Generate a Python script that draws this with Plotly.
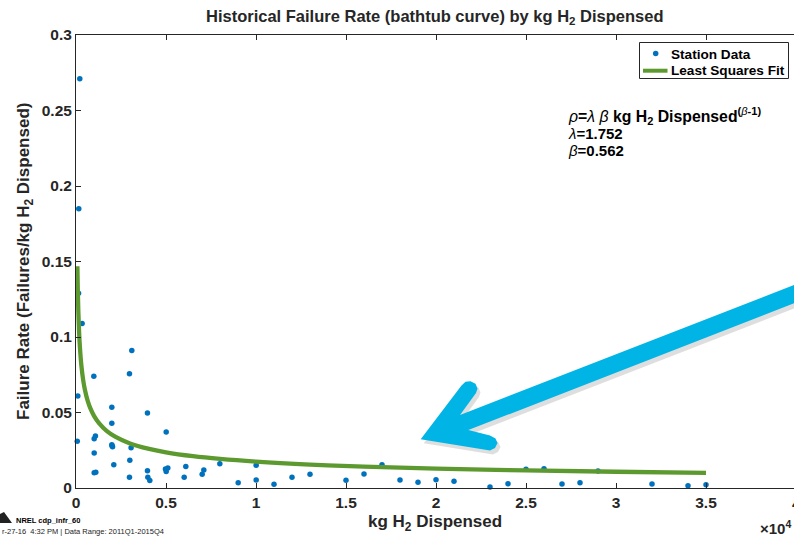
import plotly.graph_objects as go

# ---------------- data ----------------
station_x = [210, 155, 140, 340, 100, 70, 990, 3100, 2970, 1990, 1990, 3970,
             1010, 1080, 1010, 1010, 1100, 1990, 2030, 2000, 3060, 2100, 2990,
             2970, 3970, 3990, 4100, 5010, 4970, 5100, 5010, 6100, 6010, 7100,
             7010, 7990, 9010, 10010, 10010, 11000, 12000, 13000, 15000, 16000,
             17000, 18000, 19000, 20000, 21000, 23000, 24000, 25000, 26000,
             27000, 28000, 29000, 32000, 34000, 35000]
station_y = [0.271, 0.185, 0.129, 0.109, 0.061, 0.031, 0.074, 0.091, 0.0757,
             0.0534, 0.0428, 0.0497, 0.0326, 0.0344, 0.0232, 0.0101, 0.0104,
             0.0287, 0.0274, 0.0280, 0.0267, 0.0154, 0.0183, 0.0071, 0.0115,
             0.0071, 0.0049, 0.0371, 0.0126, 0.0132, 0.0110, 0.0143, 0.0071,
             0.0119, 0.0091, 0.0161, 0.0035, 0.0150, 0.0053, 0.0025, 0.0071,
             0.0091, 0.0051, 0.0093, 0.0154, 0.0053, 0.0038, 0.0055, 0.0044,
             0.0007, 0.0028, 0.0124, 0.0128, 0.0026, 0.0035, 0.0113, 0.0026,
             0.0015, 0.0022]

# least squares fit parameters shown on the chart
lam = 1.752
beta = 0.562
fit_x = [77, 100, 130, 170, 220, 300, 400, 500, 650, 800, 1000, 1300, 1700,
         2200, 3000, 4000, 5000, 6500, 8000, 10000, 13000, 16000, 20000,
         25000, 30000, 35000]
fit_y = [lam * beta * x ** (beta - 1) for x in fit_x]

x_ticks = [0, 5000, 10000, 15000, 20000, 25000, 30000, 35000]
x_tick_labels = ["0", "0.5", "1", "1.5", "2", "2.5", "3", "3.5"]
y_ticks = [0, 0.05, 0.1, 0.15, 0.2, 0.25, 0.3]
y_tick_labels = ["0", "0.05", "0.1", "0.15", "0.2", "0.25", "0.3"]
legend_names = ["Station Data", "Least Squares Fit"]

# ---------------- layout helpers ----------------
W, H = 794, 537
L, R, T, B = 76, 0, 35, 49
PW, PH = W - L - R, H - T - B
FONT = "Liberation Sans, Arial, Helvetica, sans-serif"
AX = "#262626"
BLUE = "#0072BD"
GREEN = "#5C9A30"


def px(x):
    return (x - L) / PW


def py(y):
    return (H - B - y) / PH


fig = go.Figure()
fig.add_trace(go.Scatter(
    x=station_x, y=station_y, mode="markers", name=legend_names[0],
    marker=dict(color=BLUE, size=5.5, line=dict(width=0)),
    cliponaxis=False, showlegend=False))
fig.add_trace(go.Scatter(
    x=fit_x, y=fit_y, mode="lines", name=legend_names[1],
    line=dict(color=GREEN, width=4.3, shape="spline"), showlegend=False))

# ---------------- arrow (decoration) ----------------
arrow_pts = [(420.7, 439.3), (461.5, 385.5), (465.5, 381.8), (470.5, 381.2),
             (475.5, 383.8), (477.5, 388.5), (476.0, 393.0), (460.0, 415.0),
             (800.0, 282.7), (800.0, 301.0), (468.3, 430.1), (490.0, 435.5),
             (495.5, 438.5), (497.5, 443.0), (495.0, 448.0), (490.0, 450.5)]


def path_of(pts, dx=0.0, dy=0.0):
    s = ""
    for i, (a, b) in enumerate(pts):
        s += ("M" if i == 0 else "L") + f"{px(a + dx):.5f},{py(b + dy):.5f} "
    return s + "Z"


shapes = [
    # legend box
    dict(type="rect", xref="paper", yref="paper", x0=px(639.5), x1=px(788.5),
         y0=py(42.5), y1=py(78.5), fillcolor="white",
         line=dict(color=AX, width=1), layer="above"),
    dict(type="circle", xref="paper", yref="paper", xsizemode="pixel",
         ysizemode="pixel", xanchor=px(655.7), yanchor=py(53.5),
         x0=-2.75, x1=2.75, y0=-2.75, y1=2.75, fillcolor=BLUE,
         line=dict(width=0), layer="above"),
    dict(type="line", xref="paper", yref="paper", x0=px(643), x1=px(667.5),
         y0=py(70.7), y1=py(70.7), line=dict(color=GREEN, width=4),
         layer="above"),
    # arrow shadow + arrow
    dict(type="path", xref="paper", yref="paper", path=path_of(arrow_pts, 3, 4),
         fillcolor="rgba(0,0,0,0.13)", line=dict(width=0), layer="above"),
    dict(type="path", xref="paper", yref="paper", path=path_of(arrow_pts),
         fillcolor="#00B4E6", line=dict(width=0), layer="above"),
    # small logo at bottom left
    dict(type="path", xref="paper", yref="paper",
         path=path_of([(0, 514), (4, 512), (12, 523), (0, 523)]),
         fillcolor="#222222", line=dict(width=0), layer="above"),
]

bold = dict(family=FONT, color=AX, weight="bold")
blk = dict(family=FONT, color="#000000", weight="bold")


def g(ch):
    return f'<span style="font-weight:normal"><i>{ch}</i></span>'


annotations = [
    dict(text="Historical Failure Rate (bathtub curve) by kg H<sub>2</sub> Dispensed",
         xref="paper", yref="paper", x=px(435), y=py(17), xanchor="center",
         yanchor="middle", showarrow=False, font=dict(size=16.5, **bold)),
    dict(text="kg H<sub>2</sub> Dispensed", xref="paper", yref="paper",
         x=px(435), y=py(523), xanchor="center", yanchor="middle",
         showarrow=False, font=dict(size=17, **bold)),
    dict(text="Failure Rate (Failures/kg H<sub>2</sub> Dispensed)", xref="paper",
         yref="paper", x=px(25), y=py(262), xanchor="center", yanchor="middle",
         textangle=-90, showarrow=False, font=dict(size=17, **bold)),
    dict(text="×10<sup>4</sup>", xref="paper", yref="paper", x=px(758),
         y=py(527), xanchor="left", yanchor="middle", showarrow=False,
         font=dict(size=15, **bold)),
    dict(text="4", xref="paper", yref="paper", x=px(796), y=py(503),
         xanchor="center", yanchor="middle", showarrow=False,
         font=dict(size=15.5, **bold)),
    # legend texts
    dict(text=legend_names[0], xref="paper", yref="paper", x=px(669),
         y=py(54), xanchor="left", yanchor="middle", showarrow=False,
         font=dict(size=13.6, **blk)),
    dict(text=legend_names[1], xref="paper", yref="paper", x=px(669),
         y=py(70.5), xanchor="left", yanchor="middle", showarrow=False,
         font=dict(size=13.6, **blk)),
    # formula
    dict(text=f"{g('ρ')}={g('λ')} {g('β')} kg H<sub>2</sub> Dispensed<sup>({g('β')}-1)</sup>",
         xref="paper", yref="paper", x=px(566), y=py(116), xanchor="left",
         yanchor="middle", showarrow=False, font=dict(size=15.8, **blk)),
    dict(text=f"{g('λ')}=1.752", xref="paper", yref="paper", x=px(566),
         y=py(133), xanchor="left", yanchor="middle", showarrow=False,
         font=dict(size=15, **blk)),
    dict(text=f"{g('β')}=0.562", xref="paper", yref="paper", x=px(566),
         y=py(150), xanchor="left", yanchor="middle", showarrow=False,
         font=dict(size=15, **blk)),
    # footer
    dict(text="NREL cdp_infr_60", xref="paper", yref="paper", x=px(14),
         y=py(520), xanchor="left", yanchor="middle", showarrow=False,
         font=dict(size=7.5, **blk)),
    dict(text="r-27-16  4:32 PM | Data Range: 2011Q1-2015Q4", xref="paper",
         yref="paper", x=px(0), y=py(531), xanchor="left", yanchor="middle",
         showarrow=False, font=dict(size=7.5, family=FONT, color="#222222")),
]

fig.update_layout(
    width=W, height=H, autosize=False,
    margin=dict(l=L, r=R, t=T, b=B, pad=0),
    paper_bgcolor="white", plot_bgcolor="white",
    font=dict(family=FONT, color=AX),
    showlegend=False,
    shapes=shapes, annotations=annotations,
    xaxis=dict(range=[0, 1e4 * PW / 180], tickvals=x_ticks, ticktext=x_tick_labels,
               ticks="inside", ticklen=5, tickcolor=AX, tickwidth=1,
               showline=True, linecolor=AX, linewidth=1, mirror="ticks",
               showgrid=False, zeroline=False,
               tickfont=dict(size=15.5, **bold)),
    yaxis=dict(range=[0, 0.3], tickvals=y_ticks, ticktext=y_tick_labels,
               ticks="inside", ticklen=5, tickcolor=AX, tickwidth=1,
               showline=True, linecolor=AX, linewidth=1, mirror=False,
               showgrid=False, zeroline=False,
               tickfont=dict(size=15.5, **bold)),
)

fig.write_html("out.html")
